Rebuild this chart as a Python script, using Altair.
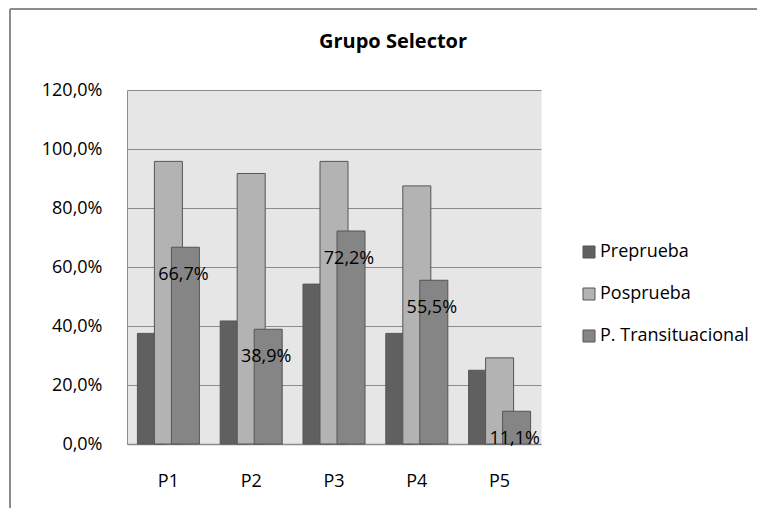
import altair as alt
import pandas as pd

categorias = ["P1", "P2", "P3", "P4", "P5"]
series = ["Preprueba", "Posprueba", "P. Transituacional"]
preprueba = [37.5, 41.7, 54.2, 37.5, 25.0]
posprueba = [95.8, 91.7, 95.8, 87.5, 29.2]
transituacional = [66.7, 38.9, 72.2, 55.5, 11.1]
y_ticks = [0, 20, 40, 60, 80, 100, 120]
colores = ["#606060", "#b3b3b3", "#858585"]

rows = []
for nombre, vals in zip(series, [preprueba, posprueba, transituacional]):
    for c, v in zip(categorias, vals):
        rows.append({"cat": c, "serie": nombre, "valor": v})
df = pd.DataFrame(rows)

FONT = "Open Sans"

x_enc = alt.X("cat:N", sort=categorias,
              scale=alt.Scale(paddingInner=0, paddingOuter=0),
              axis=alt.Axis(title=None, labelAngle=0, ticks=False, grid=False,
                            domainColor="#8c8c8c", domainWidth=1.5,
                            labelPadding=28, labelFontSize=18, labelFont=FONT,
                            labelColor="#000000"))
y_enc = alt.Y("valor:Q",
              scale=alt.Scale(domain=[0, 120], nice=False),
              axis=alt.Axis(title=None, values=y_ticks, ticks=False,
                            labelExpr="replace(format(datum.value, '.1f'), '.', ',') + '%'",
                            domainColor="#8c8c8c", gridColor="#8c8c8c", gridWidth=1,
                            labelPadding=25, labelFontSize=18, labelFont=FONT,
                            labelColor="#000000"))
color_enc = alt.Color("serie:N",
                      scale=alt.Scale(domain=series, range=colores),
                      legend=alt.Legend(title=None, orient="none", legendX=453, legendY=153,
                                        symbolType="square", symbolSize=144,
                                        symbolStrokeColor="#555555", symbolStrokeWidth=1,
                                        labelFontSize=18, labelFont=FONT, labelColor="#000000",
                                        rowPadding=24, labelOffset=2, padding=0))

offsets = [-17, 0, 17]
layers = []

deco = pd.DataFrame({"k": [0]})
layers.append(alt.Chart(deco).mark_rule(color="#8c8c8c", strokeWidth=2, clip=False).encode(
    x=alt.value(-117), y=alt.value(-81), y2=alt.value(418)))
layers.append(alt.Chart(deco).mark_rule(color="#8c8c8c", strokeWidth=2, clip=False).encode(
    x=alt.value(-117), x2=alt.value(630), y=alt.value(-81)))

for nombre, off in zip(series, offsets):
    layers.append(
        alt.Chart(df).transform_filter(alt.datum.serie == nombre)
        .mark_bar(width=28, xOffset=off, stroke="#555555", strokeWidth=1)
        .encode(x=x_enc, y=y_enc, color=color_enc)
    )

labels = (alt.Chart(df).transform_filter(alt.datum.serie == "P. Transituacional")
          .transform_calculate(txt="replace(format(datum.valor, '.1f'), '.', ',') + '%'")
          .mark_text(xOffset=15, dy=28, baseline="middle", align="center",
                     fontSize=18, font=FONT, color="#000000")
          .encode(x=x_enc, y=y_enc, text="txt:N"))
layers.append(labels)

chart = alt.layer(*layers).properties(
    width=414, height=354,
    padding={"left": 1, "top": 0, "right": 0, "bottom": 0},
    title=alt.TitleParams("Grupo Selector", fontSize=20, font=FONT, fontWeight="bold",
                          color="#000000", anchor="middle", dx=59, offset=-44),
).configure_view(fill="#e6e6e6", stroke="transparent")

chart.save("out.html", embed_options={"renderer": "svg", "actions": False})
